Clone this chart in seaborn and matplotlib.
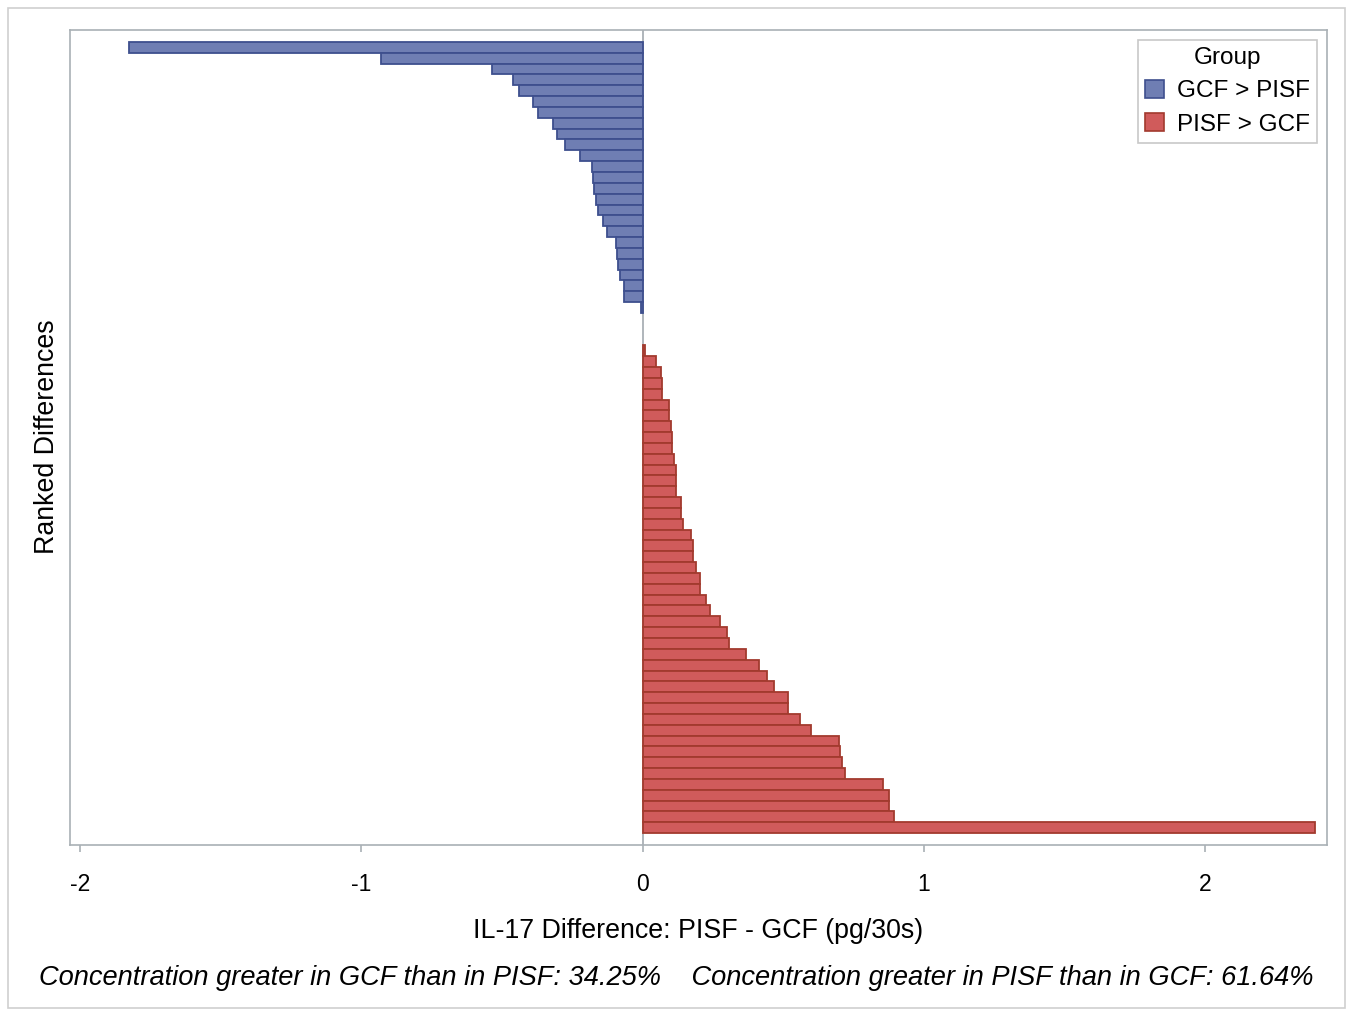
import pandas as pd
import matplotlib
matplotlib.use('Agg')
import matplotlib.pyplot as plt
import seaborn as sns
from matplotlib.patches import Patch, Rectangle

# ranked differences (pg/30s)
gcf_gt_pisf = [-1.826, -0.929, -0.537, -0.462, -0.441, -0.388, -0.373, -0.320, -0.306,
               -0.277, -0.224, -0.178, -0.177, -0.171, -0.165, -0.157, -0.142, -0.127,
               -0.096, -0.090, -0.088, -0.081, -0.065, -0.065, -0.006]
n_zero = 3
pisf_gt_gcf = [0.010, 0.048, 0.064, 0.070, 0.070, 0.093, 0.093, 0.100, 0.105, 0.105,
               0.113, 0.120, 0.120, 0.120, 0.137, 0.137, 0.143, 0.174, 0.180, 0.180,
               0.189, 0.203, 0.203, 0.227, 0.241, 0.277, 0.301, 0.306, 0.368, 0.413,
               0.443, 0.466, 0.516, 0.516, 0.561, 0.599, 0.698, 0.703, 0.710, 0.721,
               0.855, 0.875, 0.875, 0.893, 2.391]

groups = ['GCF > PISF', 'PISF > GCF']
fills = {'GCF > PISF': '#6F7EB3', 'PISF > GCF': '#D05B5B'}
edges = {'GCF > PISF': '#3E4F8E', 'PISF > GCF': '#A23A2E'}

xticks = [-2, -1, 0, 1, 2]
footnote = ('Concentration greater in GCF than in PISF: 34.25%    '
            'Concentration greater in PISF than in GCF: 61.64%')

n_total = len(gcf_gt_pisf) + n_zero + len(pisf_gt_gcf)
ranks = list(range(len(gcf_gt_pisf))) + list(range(len(gcf_gt_pisf) + n_zero, n_total))
data = pd.DataFrame({
    'rank': ranks,
    'diff': gcf_gt_pisf + pisf_gt_gcf,
    'group': [groups[0]] * len(gcf_gt_pisf) + [groups[1]] * len(pisf_gt_gcf),
})

plt.rcParams['font.family'] = ['Liberation Sans', 'DejaVu Sans']
grey = '#A9B0B5'

fig = plt.figure(figsize=(13.52, 10.11), dpi=100)
ax = fig.add_axes([0.0518, 0.1642, 0.9297, 0.8061])

sns.barplot(data=data, x='diff', y='rank', hue='group', hue_order=groups,
            order=list(range(n_total)), palette=fills, orient='y', dodge=False,
            width=1.0, saturation=1, legend=False, linewidth=1.3, ax=ax)

# outline colours per group
for p in ax.patches:
    p.set_edgecolor(edges[groups[0]] if p.get_width() < 0 else edges[groups[1]])

ax.axvline(0, color=grey, lw=1.3, zorder=0)
ax.set_xlim(-2.036, 2.434)
ax.set_ylim(n_total + 0.6, -1.6)
ax.set_xticks(xticks)
ax.set_xticklabels([str(t) for t in xticks], fontsize=16.5)
ax.set_yticks([])
ax.set_xlabel('')
ax.set_ylabel('')
ax.tick_params(axis='x', length=5, width=1.2, color=grey, pad=15)
for s in ax.spines.values():
    s.set_color(grey)
    s.set_linewidth(1.2)

handles = [Patch(facecolor=fills[g], edgecolor=edges[g], lw=1.2, label=g) for g in groups]
leg = ax.legend(handles=handles, title='Group', loc='upper right', fontsize=17.5,
                title_fontsize=17.5, fancybox=False, edgecolor='#C8C8C8', framealpha=1,
                borderaxespad=0.4, handlelength=0.75, handleheight=0.75,
                handletextpad=0.55, labelspacing=0.45, borderpad=0.3)
leg.get_frame().set_linewidth(1.2)

fig.text(0.5163, 0.079, 'IL-17 Difference: PISF - GCF (pg/30s)', fontsize=19.3,
         ha='center', va='center')
fig.text(0.0348, 0.568, 'Ranked Differences', fontsize=19.3, rotation=90,
         ha='center', va='center')
fig.text(0.5, 0.033, footnote, fontsize=19.6, style='italic', ha='center', va='center')

fig.add_artist(Rectangle((0.006, 0.003), 0.989, 0.989, transform=fig.transFigure,
                         fill=False, edgecolor='#CFCFCF', lw=1.2))

fig.savefig('out.png', dpi=100)
